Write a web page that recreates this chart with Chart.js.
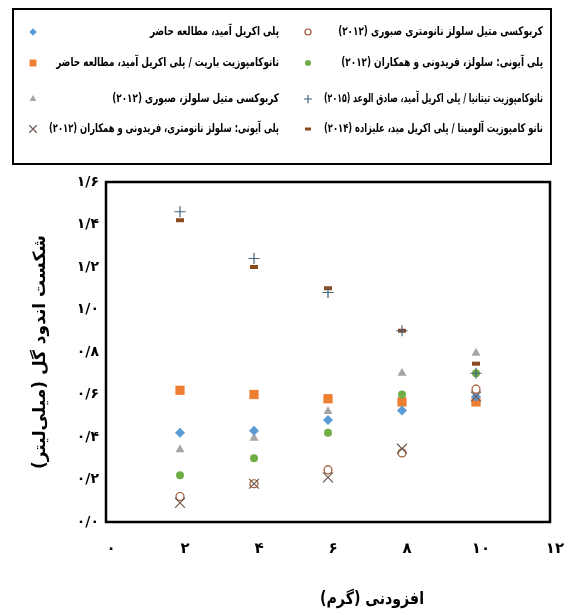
<!DOCTYPE html>
<html>
<head>
<meta charset="utf-8">
<script src="https://cdn.jsdelivr.net/npm/chart.js@4/dist/chart.umd.min.js"></script>
<style>
  html, body { margin: 0; padding: 0; background: #fff; }
  canvas { display: block; }
</style>
</head>
<body>
<canvas id="fluidChart" width="578" height="615"></canvas>
<script>
// x: additive amount (g), same for every series
const xValues = [2, 4, 6, 8, 10];

const seriesLabels = [
    'کربوکسی متیل سلولز نانومتری صبوری (۲۰۱۲)',
    'پلی آیونی: سلولز، فریدونی و همکاران (۲۰۱۲)',
    'نانوکامپوزیت تیتانیا / پلی اکریل آمید، صادق الوعد (۲۰۱۵)',
    'نانو کامپوزیت آلومینا / پلی اکریل مید، علیزاده (۲۰۱۴)',
    'پلی اکریل آمید، مطالعه حاضر',
    'نانوکامپوزیت باریت / پلی اکریل آمید، مطالعه حاضر',
    'کربوکسی متیل سلولز، صبوری (۲۰۱۲)',
    'پلی آیونی: سلولز نانومتری، فریدونی و همکاران (۲۰۱۲)'
];

// fluid loss (ml)
const cmcNanoSabouri = [0.12, 0.18, 0.245, 0.325, 0.625];
const polyanionicCellulose = [0.22, 0.30, 0.42, 0.60, 0.70];
const titaniaNano = [1.46, 1.24, 1.08, 0.90, 0.70];
const aluminaNano = [1.42, 1.20, 1.10, 0.90, 0.745];
const pamPresent = [0.42, 0.43, 0.48, 0.525, 0.59];
const bariteNanoPresent = [0.62, 0.60, 0.58, 0.565, 0.565];
const cmcSabouri = [0.34, 0.395, 0.52, 0.70, 0.795];
const polyanionicNano = [0.09, 0.18, 0.21, 0.345, 0.59];

const xTickLabels = ['۰', '۲', '۴', '۶', '۸', '۱۰', '۱۲'];
const yTickLabels = ['۰/۰', '۰/۲', '۰/۴', '۰/۶', '۰/۸', '۱/۰', '۱/۲', '۱/۴', '۱/۶'];

const xTitle = 'افزودنی (گرم)';
const yTitle = '\u200Fشکست اندود گل (میلی\u200Cلیتر)\u200F';

const FONT = '"DejaVu Sans", sans-serif';

function pts(values) {
    return values.map((v, i) => ({x: xValues[i], y: v}));
}

const styles = [
    {pointStyle: 'circle', radius: 4, bg: '#ffffff', border: '#a0522d', bw: 1.2, order: 4},
    {pointStyle: 'circle', radius: 4, bg: '#70ad47', border: '#70ad47', bw: 0, order: 5},
    {pointStyle: 'cross', radius: 5.5, bg: '#44647a', border: '#44647a', bw: 1.2, order: 1},
    {pointStyle: 'line', radius: 4, bg: '#8c4a1e', border: '#8c4a1e', bw: 4, order: 2},
    {pointStyle: 'rectRot', radius: 5, bg: '#5b9bd5', border: '#5b9bd5', bw: 0, order: 6},
    {pointStyle: 'rect', radius: 6.5, bg: '#ed7d31', border: '#ed7d31', bw: 0, order: 8},
    {pointStyle: 'triangle', radius: 5.2, bg: '#a5a5a5', border: '#a5a5a5', bw: 0, order: 7},
    {pointStyle: 'crossRot', radius: 7, bg: '#6e5a50', border: '#6e5a50', bw: 1.2, order: 3}
];

const seriesValues = [cmcNanoSabouri, polyanionicCellulose, titaniaNano, aluminaNano,
                      pamPresent, bariteNanoPresent, cmcSabouri, polyanionicNano];

const datasets = seriesValues.map((vals, i) => ({
    label: seriesLabels[i],
    data: pts(vals),
    pointStyle: styles[i].pointStyle,
    pointRadius: styles[i].radius,
    pointBackgroundColor: styles[i].bg,
    pointBorderColor: styles[i].border,
    pointBorderWidth: styles[i].bw,
    showLine: false,
    order: styles[i].order
}));

// legend box, plot frame and x title (sits right of centre in the original)
const boxPlugin = {
    id: 'boxPlugin',
    afterDraw(chart) {
        const ctx = chart.ctx;
        const a = chart.chartArea;
        ctx.save();
        ctx.strokeStyle = '#000';
        ctx.lineWidth = 2;
        ctx.strokeRect(13, 9, 538, 155);
        ctx.lineWidth = 2.5;
        ctx.strokeRect(a.left, a.top, a.right - a.left, a.bottom - a.top);

        ctx.direction = 'rtl';
        ctx.textAlign = 'center';
        ctx.textBaseline = 'middle';
        ctx.fillStyle = '#000';
        ctx.font = '700 17px ' + FONT;
        ctx.fillText(xTitle, (a.left + a.right) / 2 + 44, 600, 104);

        const rows = [32, 63, 99, 129];
        const cols = [{marker: 308, text: 543}, {marker: 33, text: 279}];
        const drawPoint = Chart.helpers && Chart.helpers.drawPoint;
        chart.data.datasets.forEach((ds, i) => {
            const col = cols[i < 4 ? 0 : 1];
            const y = rows[i % 4];
            const st = styles[i];
            ctx.fillStyle = st.bg;
            ctx.strokeStyle = st.border;
            ctx.lineWidth = st.pointStyle === 'line' ? 3 : Math.max(st.bw, 1);
            if (drawPoint) {
                drawPoint(ctx, {pointStyle: st.pointStyle, rotation: 0,
                                radius: st.radius * 0.75,
                                borderWidth: st.pointStyle === 'line' ? 3 : st.bw}, col.marker, y);
            } else {
                ctx.fillRect(col.marker - 3, y - 3, 6, 6);
            }
            ctx.fillStyle = '#000';
            ctx.font = '700 12px ' + FONT;
            ctx.textAlign = 'right';
            // the original face is narrower than DejaVu: squeeze it a bit
            const room = col.text - col.marker - 16;
            const w = Math.min(ctx.measureText(ds.label).width * 0.74, room);
            ctx.fillText(ds.label, col.text, y, w);
        });
        ctx.restore();
    }
};

new Chart(document.getElementById('fluidChart').getContext('2d'), {
    type: 'scatter',
    data: {datasets},
    options: {
        responsive: false,
        animation: false,
        layout: {padding: {left: 0, top: 182, right: 28, bottom: 0}},
        plugins: {legend: {display: false}, tooltip: {enabled: false}},
        scales: {
            x: {
                type: 'linear',
                min: 0, max: 12,
                afterFit: s => { s.height = 93; },
                grid: {display: false, drawTicks: false},
                border: {display: false},
                ticks: {
                    stepSize: 2, autoSkip: false, maxRotation: 0,
                    padding: 18, labelOffset: 5, color: '#000',
                    font: {family: FONT, size: 15, weight: 'bold'},
                    callback: v => xTickLabels[Math.round(v / 2)]
                }
            },
            y: {
                min: 0, max: 1.6,
                afterFit: s => { s.width = 106; },
                grid: {display: false, drawTicks: false},
                border: {display: false},
                ticks: {
                    stepSize: 0.2, autoSkip: false, padding: 7, color: '#000',
                    font: {family: FONT, size: 14, weight: 'bold'},
                    callback: v => yTickLabels[Math.round(v / 0.2)]
                },
                title: {
                    display: true, text: yTitle, color: '#000',
                    font: {family: FONT, size: 17, weight: 'bold'},
                    padding: {top: 30}
                }
            }
        }
    },
    plugins: [boxPlugin]
});
</script>
</body>
</html>
